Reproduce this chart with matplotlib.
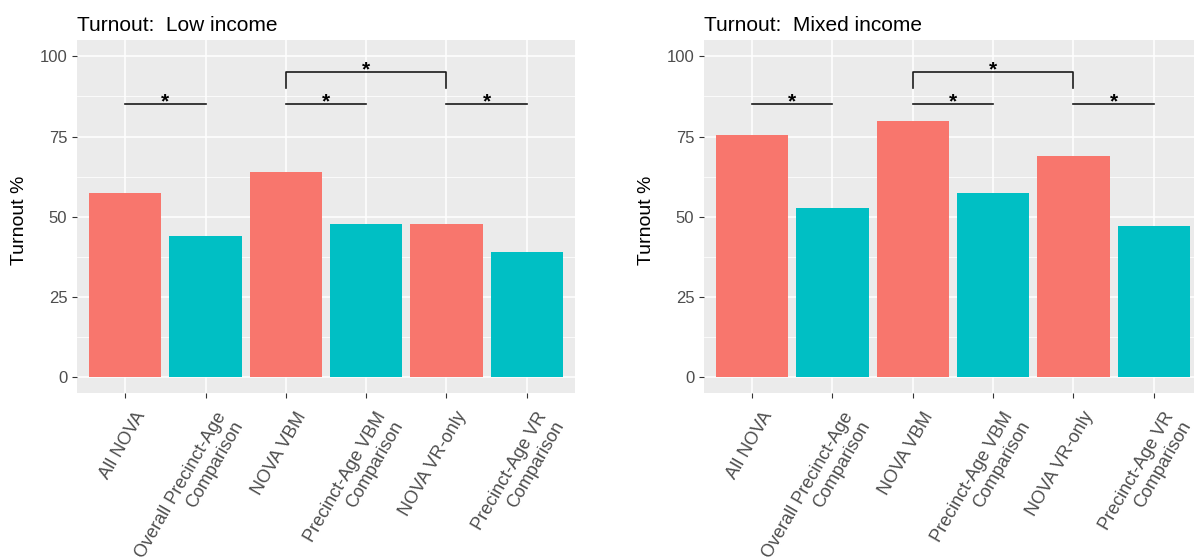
import numpy as np
import matplotlib.pyplot as plt
from matplotlib.transforms import ScaledTranslation

plt.rcParams['font.family'] = ['Liberation Sans', 'DejaVu Sans']

labels = ["All NOVA", "Overall Precinct-Age\nComparison", "NOVA VBM",
          "Precinct-Age VBM\nComparison", "NOVA VR-only",
          "Precinct-Age VR\nComparison"]
low_income = [57.3, 44.0, 63.8, 47.6, 47.6, 39.0]
mixed_income = [75.5, 52.7, 79.9, 57.3, 68.8, 47.1]
titles = ["Turnout:  Low income", "Turnout:  Mixed income"]

# significance brackets: (first bar, second bar, height, tip)
pairs = [(1, 2, 85, 0), (3, 4, 85, 0), (5, 6, 85, 0), (3, 5, 95, 5)]

red = '#F8766D'
teal = '#00BFC4'
colors = [red, teal] * 3

fig = plt.figure(figsize=(11.94, 5.6), dpi=100)
ax1 = fig.add_axes([0.0645, 0.298, 0.417, 0.630])
ax2 = fig.add_axes([0.5896, 0.298, 0.417, 0.630])

x = np.arange(1, 7)
shift = ScaledTranslation(9 / 100, -6 / 100, fig.dpi_scale_trans)

for ax, vals, title in zip([ax1, ax2], [low_income, mixed_income], titles):
    ax.set_facecolor('#EBEBEB')
    for s in ax.spines.values():
        s.set_visible(False)
    ax.set_axisbelow(True)
    ax.set_yticks([0, 25, 50, 75, 100])
    ax.set_yticks([12.5, 37.5, 62.5, 87.5], minor=True)
    ax.set_xticks(x)
    ax.grid(which='major', color='white', linewidth=1.1)
    ax.grid(which='minor', axis='y', color='white', linewidth=0.55)
    ax.tick_params(which='minor', length=0)
    ax.tick_params(which='major', length=3.5, width=0.8, color='#333333',
                   labelcolor='#4D4D4D', labelsize=12)
    ax.bar(x, vals, width=0.9, color=colors, zorder=2)
    ax.set_xlim(0.4, 6.6)
    ax.set_ylim(-5, 105)
    ax.set_xticklabels(labels, rotation=60, ha='right', va='top',
                       rotation_mode='anchor', multialignment='right',
                       fontsize=13)
    for lab in ax.get_xticklabels():
        lab.set_transform(lab.get_transform() + shift)
    ax.set_ylabel('Turnout %', fontsize=14, color='black')
    ax.yaxis.set_label_coords(-0.098, 0.49)
    ax.set_title(title, loc='left', fontsize=15, color='black', pad=7)

    for a, b, h, tip in pairs:
        ax.plot([a, a, b, b], [h - tip, h, h, h - tip], color='#1a1a1a',
                linewidth=1.2, zorder=3)
        ax.text((a + b) / 2, h - 2.2, '*', ha='center', va='bottom',
                fontsize=15, fontweight='bold', color='black', zorder=4)

fig.savefig('out.png', dpi=100)
